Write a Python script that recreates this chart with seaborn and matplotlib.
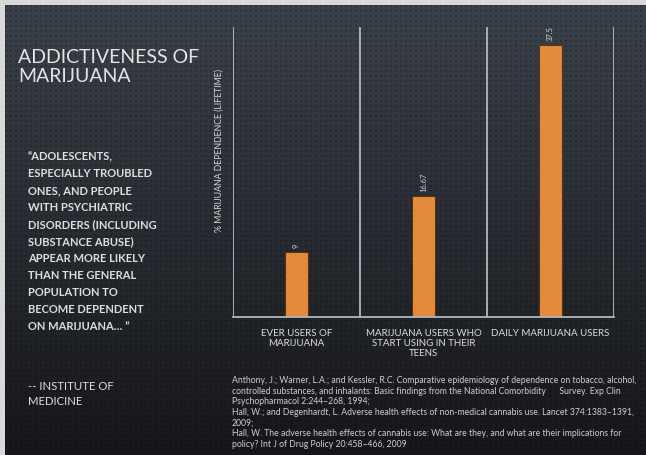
import numpy as np
import pandas as pd
import matplotlib
matplotlib.use("Agg")
import matplotlib.pyplot as plt
import seaborn as sns

# ---- data ----
categories = ["EVER USERS OF\nMARIJUANA",
              "MARIJUANA USERS WHO\nSTART USING IN THEIR\nTEENS",
              "DAILY MARIJUANA USERS"]
values = [9, 16.67, 37.5]
value_labels = ["9", "16.67", "37.5"]
y_label = "% MARIJUANA DEPENDENCE (LIFETIME)"
title_text = "ADDICTIVENESS OF\nMARIJUANA"
quote_lines = ["\u201cADOLESCENTS,", "ESPECIALLY TROUBLED", "ONES, AND PEOPLE",
               "WITH PSYCHIATRIC", "DISORDERS (INCLUDING", "SUBSTANCE ABUSE)",
               "APPEAR MORE LIKELY", "THAN THE GENERAL", "POPULATION TO",
               "BECOME DEPENDENT", "ON MARIJUANA\u2026 \u201d"]
source_text = "-- INSTITUTE OF\nMEDICINE"
references = [
    "Anthony, J.; Warner, L.A.; and Kessler, R.C. Comparative epidemiology of dependence on tobacco, alcohol,",
    "controlled substances, and inhalants: Basic findings from the National Comorbidity      Survey. Exp Clin",
    "Psychopharmacol 2:244\u2013268, 1994;",
    "Hall, W.; and Degenhardt, L. Adverse health effects of non-medical cannabis use. Lancet 374:1383\u20131391,",
    "2009;",
    "Hall, W. The adverse health effects of cannabis use: What are they, and what are their implications for",
    "policy? Int J of Drug Policy 20:458\u2013466, 2009",
]

sns.set_theme(style="white")
plt.rcParams['font.family'] = ['Lato', 'DejaVu Sans']

W, H = 646, 455
fig = plt.figure(figsize=(W / 100, H / 100), dpi=100)
fig.patch.set_facecolor("#d9d9d9")

# background with gradient and dot texture
bg = fig.add_axes([5 / W, 0, 1 - 5 / W, 1 - 5 / H])
bh, bw = H - 5, W - 5
yy, xx = np.mgrid[0:bh, 0:bw]
t = yy / (bh - 1)
top = np.array([0x3b, 0x41, 0x4a]) / 255
bot = np.array([0x16, 0x17, 0x1a]) / 255
img = top[None, None, :] * (1 - t[..., None]) + bot[None, None, :] * t[..., None]
dots = ((xx % 5) < 2) & ((yy % 5) < 2)
img = img * np.where(dots, 0.78, 1.0)[..., None]
bg.imshow(img, aspect="auto", extent=[0, 1, 0, 1], interpolation="nearest")
bg.set_axis_off()

# chart axes
ax = fig.add_axes([233 / W, 138 / H, 381 / W, 290 / H])
ax.set_facecolor("none")
df = pd.DataFrame({"cat": categories, "val": values})
sns.barplot(data=df, x="cat", y="val", ax=ax, color="#e38b3d",
            width=0.18, edgecolor="#5a3210", linewidth=0.8, saturation=1)
ax.set_ylim(0, 40)
ax.set_xlim(-0.5, 2.5)
line_c = "#b4b8bd"
for xv in [-0.5, 0.5, 1.5, 2.5]:
    ax.axvline(xv, color=line_c, lw=1.3, zorder=0)
for s in ["top", "right", "left"]:
    ax.spines[s].set_visible(False)
ax.spines["bottom"].set_color(line_c)
ax.spines["bottom"].set_linewidth(1.3)
ax.set_yticks([])
ax.tick_params(axis="x", length=0, pad=9, labelsize=7, labelcolor="#dcdcdc")
for lab in ax.get_xticklabels():
    lab.set_linespacing(1.1)
ax.set_xlabel("")
ax.set_ylabel(y_label, fontsize=6.3, color="#d8d8d8")
ax.yaxis.set_label_coords(-0.024, 0.575)
ax.bar_label(ax.containers[0], labels=value_labels, rotation=90, padding=3,
             fontsize=5.5, color="#d4d4d4")

# left text panel
fig.text(18 / W, 1 - 49 / H, title_text, fontsize=14, color="#e4e4e4",
         va="top", ha="left", linespacing=1.15)
fig.text(28 / W, 1 - 151 / H, "\n".join(quote_lines), fontsize=8.0,
         color="#dedede", va="top", ha="left", fontweight="bold",
         linespacing=1.67)
fig.text(28 / W, 1 - 381 / H, source_text, fontsize=8.2, color="#dedede",
         va="top", ha="left", linespacing=1.45)

# references
fig.text(232 / W, 1 - 376 / H, "\n".join(references), fontsize=6.2,
         color="#cfcfcf", va="top", ha="left", linespacing=1.23)

fig.savefig("out.png", dpi=100, facecolor=fig.get_facecolor())
